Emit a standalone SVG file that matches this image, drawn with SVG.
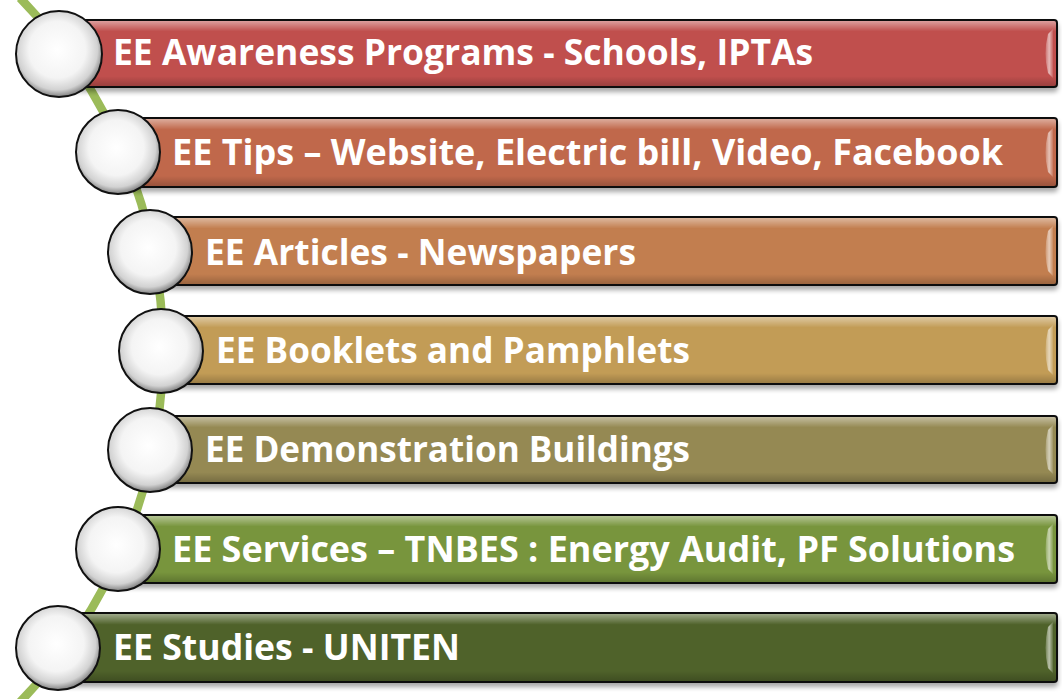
<svg xmlns="http://www.w3.org/2000/svg" width="1062" height="699" viewBox="0 0 1062 699">
<defs>
<style>
.lbl{font-family:"Open Sans","Noto Sans","Liberation Sans",sans-serif;font-weight:bold;font-size:35px;fill:#fff}
.bar{stroke:#111;stroke-width:2}
.gloss{fill:url(#gl)}
.bev{fill:url(#bv);stroke:none}
.knob{fill:url(#kn);stroke:#111;stroke-width:2}
</style>
<linearGradient id="gl" x1="0" y1="0" x2="0" y2="1">
<stop offset="0" stop-color="#fff" stop-opacity="0.45"/>
<stop offset="0.16" stop-color="#fff" stop-opacity="0"/>
<stop offset="0.85" stop-color="#000" stop-opacity="0"/>
<stop offset="1" stop-color="#000" stop-opacity="0.2"/>
</linearGradient>
<linearGradient id="bv" x1="0" y1="0" x2="1" y2="0">
<stop offset="0" stop-color="#fff" stop-opacity="0.2"/>
<stop offset="0.5" stop-color="#fff" stop-opacity="0.6"/>
<stop offset="1" stop-color="#fff" stop-opacity="0.1"/>
</linearGradient>
<radialGradient id="kn" cx="0.48" cy="0.45" r="0.55">
<stop offset="0" stop-color="#fff"/>
<stop offset="0.6" stop-color="#f4f4f4"/>
<stop offset="0.85" stop-color="#d2d2d2"/>
<stop offset="1" stop-color="#808080"/>
</radialGradient>
<filter id="sh" x="-5%" y="-20%" width="110%" height="150%">
<feGaussianBlur in="SourceAlpha" stdDeviation="2.5"/>
<feOffset dx="0" dy="4" result="b"/>
<feComponentTransfer><feFuncA type="linear" slope="0.35"/></feComponentTransfer>
<feMerge><feMergeNode/><feMergeNode in="SourceGraphic"/></feMerge>
</filter>
</defs>
<rect width="1062" height="699" fill="#fff"/>
<g id="connectors">
<path d="M 20,-2 A 505 505 0 0 1 20,702" fill="none" stroke="#9bbb59" stroke-width="8.5"/>
</g>
<g id="n1">
<rect class="bar" x="60" y="20" width="997" height="67" rx="3" fill="#c0504d" filter="url(#sh)"/>
<rect class="gloss" x="61" y="21" width="995" height="65" rx="2"/>
<path class="bev" d="M1053,29 L1053,78 L1048,73 Q1043,53.5 1048,34 Z"/>
<circle class="knob" cx="59" cy="54" r="43"/>
<text class="lbl" x="113" y="65" textLength="700" lengthAdjust="spacingAndGlyphs">EE Awareness Programs - Schools, IPTAs</text>
</g>
<g id="n2">
<rect class="bar" x="118" y="118" width="939" height="69" rx="3" fill="#c0674b" filter="url(#sh)"/>
<rect class="gloss" x="119" y="119" width="937" height="67" rx="2"/>
<path class="bev" d="M1053,128 L1053,177 L1048,172 Q1043,152.5 1048,133 Z"/>
<circle class="knob" cx="118" cy="152" r="42"/>
<text class="lbl" x="172" y="165" textLength="831" lengthAdjust="spacingAndGlyphs">EE Tips – Website, Electric bill, Video, Facebook</text>
</g>
<g id="n3">
<rect class="bar" x="150" y="217" width="907" height="68" rx="3" fill="#c27e4f" filter="url(#sh)"/>
<rect class="gloss" x="151" y="218" width="905" height="66" rx="2"/>
<path class="bev" d="M1053,226 L1053,276 L1048,271 Q1043,251 1048,231 Z"/>
<circle class="knob" cx="150" cy="252" r="42"/>
<text class="lbl" x="205" y="265" textLength="431" lengthAdjust="spacingAndGlyphs">EE Articles - Newspapers</text>
</g>
<g id="n4">
<rect class="bar" x="161" y="316" width="896" height="68" rx="3" fill="#c29c56" filter="url(#sh)"/>
<rect class="gloss" x="162" y="317" width="894" height="66" rx="2"/>
<path class="bev" d="M1053,325 L1053,375 L1048,370 Q1043,350 1048,330 Z"/>
<circle class="knob" cx="161" cy="351" r="42"/>
<text class="lbl" x="216" y="363" textLength="474" lengthAdjust="spacingAndGlyphs">EE Booklets and Pamphlets</text>
</g>
<g id="n5">
<rect class="bar" x="150" y="416" width="907" height="67" rx="3" fill="#958953" filter="url(#sh)"/>
<rect class="gloss" x="151" y="417" width="905" height="65" rx="2"/>
<path class="bev" d="M1053,425 L1053,474 L1048,469 Q1043,449.5 1048,430 Z"/>
<circle class="knob" cx="150" cy="450" r="42"/>
<text class="lbl" x="205" y="462" textLength="485" lengthAdjust="spacingAndGlyphs">EE Demonstration Buildings</text>
</g>
<g id="n6">
<rect class="bar" x="118" y="515" width="939" height="68" rx="3" fill="#78953c" filter="url(#sh)"/>
<rect class="gloss" x="119" y="516" width="937" height="66" rx="2"/>
<path class="bev" d="M1053,524 L1053,574 L1048,569 Q1043,549 1048,529 Z"/>
<circle class="knob" cx="118" cy="549" r="42"/>
<text class="lbl" x="172" y="562" textLength="843" lengthAdjust="spacingAndGlyphs">EE Services – TNBES : Energy Audit, PF Solutions</text>
</g>
<g id="n7">
<rect class="bar" x="58" y="613" width="999" height="69" rx="3" fill="#4f6229" filter="url(#sh)"/>
<rect class="gloss" x="59" y="614" width="997" height="67" rx="2"/>
<path class="bev" d="M1053,622 L1053,673 L1048,668 Q1043,647.5 1048,627 Z"/>
<circle class="knob" cx="58" cy="648" r="42"/>
<text class="lbl" x="113" y="660" textLength="347" lengthAdjust="spacingAndGlyphs">EE Studies - UNITEN</text>
</g>
</svg>
